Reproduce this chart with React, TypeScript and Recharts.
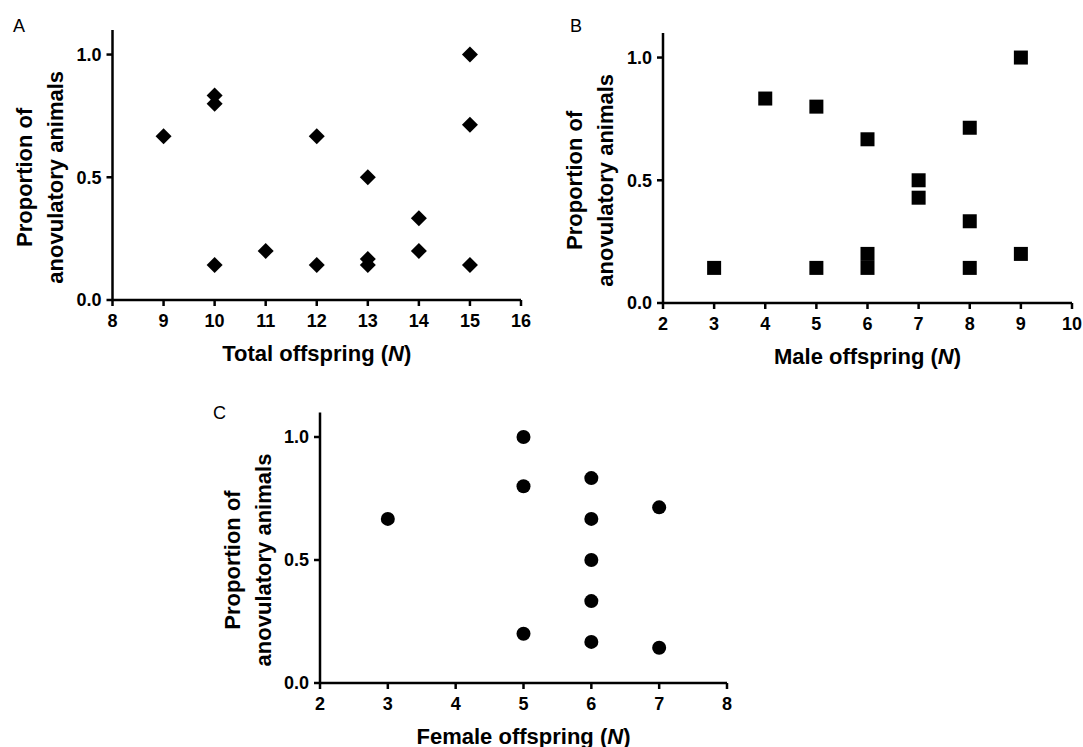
import React from 'react';
import { ScatterChart, Scatter, XAxis, YAxis } from 'recharts';

// Panel A: total offspring
const totalOffspring = [9, 10, 10, 10, 11, 12, 12, 13, 13, 13, 14, 14, 15, 15, 15];
const totalProportion = [0.667, 0.833, 0.8, 0.143, 0.2, 0.667, 0.143, 0.5, 0.167, 0.143, 0.333, 0.2, 1.0, 0.714, 0.143];

// Panel B: male offspring
const maleOffspring = [3, 4, 5, 5, 6, 6, 6, 7, 7, 8, 8, 8, 9, 9];
const maleProportion = [0.143, 0.833, 0.8, 0.143, 0.667, 0.2, 0.143, 0.5, 0.429, 0.714, 0.333, 0.143, 1.0, 0.2];

// Panel C: female offspring
const femaleOffspring = [3, 5, 5, 5, 6, 6, 6, 6, 6, 7, 7];
const femaleProportion = [0.667, 1.0, 0.8, 0.2, 0.833, 0.667, 0.5, 0.333, 0.167, 0.714, 0.143];

const totalTicks = [8, 9, 10, 11, 12, 13, 14, 15, 16];
const maleTicks = [2, 3, 4, 5, 6, 7, 8, 9, 10];
const femaleTicks = [2, 3, 4, 5, 6, 7, 8];
const yTicks = [0, 0.5, 1.0];

const FONT = '"Liberation Sans", Arial, Helvetica, sans-serif';
const Y_MAX = 1.1;

const toPoints = (xs: number[], ys: number[]) => xs.map((x, i) => ({ x, y: ys[i] }));

const Diamond = (props: any) => {
  const { cx, cy } = props;
  const r = 8;
  return <polygon points={`${cx},${cy - r} ${cx + r},${cy} ${cx},${cy + r} ${cx - r},${cy}`} fill="#000" />;
};

const Square = (props: any) => {
  const { cx, cy } = props;
  return <rect x={cx - 7} y={cy - 7} width={14} height={14} fill="#000" />;
};

const Dot = (props: any) => {
  const { cx, cy } = props;
  return <circle cx={cx} cy={cy} r={7} fill="#000" />;
};

const tickText = { fontFamily: FONT, fontSize: 18, fontWeight: 'bold' as const };

const XTick = (props: any) => {
  const { x, y, payload } = props;
  return (
    <text x={x} y={y} dy="0.71em" textAnchor="middle" fill="#000" style={tickText}>
      {payload.value}
    </text>
  );
};

const YTick = (props: any) => {
  const { x, y, payload } = props;
  return (
    <text x={x} y={y} dy="0.355em" textAnchor="end" fill="#000" style={tickText}>
      {Number(payload.value).toFixed(1)}
    </text>
  );
};

const YTitle = (props: any) => {
  const { x, y, width, height } = props.viewBox;
  const plotLeft = x + width;
  const cy = y + height * (1 - 0.5 / Y_MAX);
  const x1 = plotLeft - 88;
  const x2 = plotLeft - 57;
  const style = { fontFamily: FONT, fontSize: 22, fontWeight: 'bold' as const };
  return (
    <g>
      <text x={x1} y={cy} transform={`rotate(-90 ${x1} ${cy})`} textAnchor="middle" dominantBaseline="central" fill="#000" style={style}>
        Proportion of
      </text>
      <text x={x2} y={cy} transform={`rotate(-90 ${x2} ${cy})`} textAnchor="middle" dominantBaseline="central" fill="#000" style={style}>
        anovulatory animals
      </text>
    </g>
  );
};

const makeXTitle = (title: string) => (props: any) => {
  const { x, y, width } = props.viewBox;
  return (
    <text
      x={x + width / 2}
      y={y + 53}
      textAnchor="middle"
      dominantBaseline="central"
      fill="#000"
      style={{ fontFamily: FONT, fontSize: 22, fontWeight: 'bold' }}
    >
      {title} (<tspan fontStyle="italic">N</tspan>)
    </text>
  );
};

const axisStroke = { stroke: '#000', strokeWidth: 2.5 };

interface PanelProps {
  left: number;
  top: number;
  width: number;
  height: number;
  margin: { top: number; right: number; bottom: number; left: number };
  data: { x: number; y: number }[];
  xTicks: number[];
  xTitle: string;
  shape: any;
  letter: string;
  letterX: number;
  letterY: number;
}

const Panel = ({ left, top, width, height, margin, data, xTicks, xTitle, shape, letter, letterX, letterY }: PanelProps) => (
  <div style={{ position: 'absolute', left, top, width, height }}>
    <div style={{ position: 'absolute', left: letterX, top: letterY, fontFamily: FONT, fontSize: 18, lineHeight: '18px', color: '#000' }}>
      {letter}
    </div>
    <ScatterChart width={width} height={height} margin={margin} style={{ overflow: 'visible' }}>
      <XAxis
        type="number"
        dataKey="x"
        domain={[xTicks[0], xTicks[xTicks.length - 1]]}
        ticks={xTicks}
        interval={0}
        height={30}
        axisLine={axisStroke}
        tickLine={axisStroke}
        tickSize={6}
        tickMargin={8}
        tick={<XTick />}
        label={makeXTitle(xTitle)}
      />
      <YAxis
        type="number"
        dataKey="y"
        domain={[0, Y_MAX]}
        ticks={yTicks}
        interval={0}
        width={60}
        axisLine={axisStroke}
        tickLine={axisStroke}
        tickSize={6}
        tickMargin={5}
        tick={<YTick />}
        label={YTitle}
      />
      <Scatter data={data} shape={shape} isAnimationActive={false} />
    </ScatterChart>
  </div>
);

export default function App() {
  return (
    <div style={{ position: 'absolute', left: 0, top: 0, width: 1083, height: 747, background: '#fff', fontFamily: FONT }}>
      <Panel
        left={0}
        top={0}
        width={540}
        height={380}
        margin={{ top: 30, right: 19, bottom: 50, left: 52.5 }}
        data={toPoints(totalOffspring, totalProportion)}
        xTicks={totalTicks}
        xTitle="Total offspring"
        shape={Diamond}
        letter="A"
        letterX={13}
        letterY={17}
      />
      <Panel
        left={540}
        top={0}
        width={543}
        height={380}
        margin={{ top: 33, right: 11, bottom: 47, left: 63 }}
        data={toPoints(maleOffspring, maleProportion)}
        xTicks={maleTicks}
        xTitle="Male offspring"
        shape={Square}
        letter="B"
        letterX={30}
        letterY={17}
      />
      <Panel
        left={200}
        top={380}
        width={560}
        height={367}
        margin={{ top: 32.4, right: 33, bottom: 34, left: 60 }}
        data={toPoints(femaleOffspring, femaleProportion)}
        xTicks={femaleTicks}
        xTitle="Female offspring"
        shape={Dot}
        letter="C"
        letterX={13}
        letterY={24}
      />
    </div>
  );
}
